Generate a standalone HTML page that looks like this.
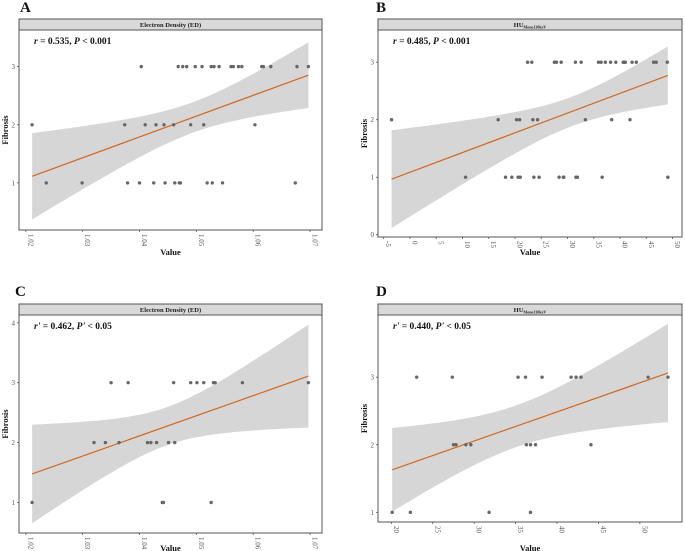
<!DOCTYPE html>
<html><head><meta charset="utf-8">
<style>
html,body{margin:0;padding:0;background:#fff;}
svg{display:block;font-family:"Liberation Serif",serif;}
</style></head>
<body>
<svg id="chart" width="685" height="551" viewBox="0 0 685 551"></svg>
<script>
// ---- data (x values per fibrosis grade) ----
const aX3 = [1.0403,1.0468,1.0476,1.0483,1.0498,1.0510,1.0526,1.0531,1.0540,1.0561,1.0565,1.0574,1.0580,1.0615,1.0618,1.0631,1.0677,1.0697];
const aX2 = [1.0211,1.0374,1.0410,1.0429,1.0443,1.0460,1.0490,1.0513,1.0603];
const aX1 = [1.0236,1.0299,1.0379,1.0400,1.0425,1.0445,1.0462,1.0470,1.0472,1.0519,1.0528,1.0546,1.0674];
const bX3 = [22.4,23.2,27.5,27.9,28.8,31.5,32.6,35.9,36.4,37.2,38.2,39.2,40.6,40.8,41.0,42.3,43.1,46.4,46.9,49.0];
const bX2 = [-3.5,16.8,20.3,20.9,23.4,24.3,33.4,38.4,41.9];
const bX1 = [10.6,18.2,19.4,20.6,21.0,23.6,24.6,28.4,29.2,29.3,31.6,31.9,36.6,49.1];
const cX3 = [1.0350,1.0380,1.0460,1.0490,1.0501,1.0513,1.0530,1.0533,1.0581,1.0697];
const cX2 = [1.0320,1.0340,1.0364,1.0414,1.0420,1.0430,1.0451,1.0462];
const cX1 = [1.0211,1.0440,1.0442,1.0526];
const dX3 = [23.06,27.36,35.3,36.2,38.2,41.7,42.3,42.9,51.0,53.4];
const dX2 = [27.5,27.8,29.0,29.6,36.3,36.8,37.4,44.1];
const dX1 = [20.1,22.3,31.8,36.8];
const edTicks = ["1.02","1.03","1.04","1.05","1.06","1.07"];
const huTicksB = ["-5","0","5","10","15","20","25","30","35","40","45","50"];
const huTicksD = ["20","25","30","35","40","45","50"];
const yTicksA = ["1","2","3"];
const yTicksB = ["0","1","2","3"];
const yTicksC = ["1","2","3","4"];
const labels = ["A","B","C","D"];

const NS="http://www.w3.org/2000/svg";
const svg=document.getElementById('chart');
function mk(tag,attrs,parent){const e=document.createElementNS(NS,tag);for(const k in attrs)e.setAttribute(k,attrs[k]);(parent||svg).appendChild(e);return e;}

function panel(cfg){
  const g=mk('g',{});
  
  
  const sx=v=>cfg.x0+(v-cfg.xd[0])/(cfg.xd[1]-cfg.xd[0])*(cfg.x1-cfg.x0);
  const sy=v=>cfg.y1-(v-cfg.yd[0])/(cfg.yd[1]-cfg.yd[0])*(cfg.y1-cfg.y0);
  // panel letter
  const L=mk('text',{x:cfg.lx,y:cfg.ly,'font-size':15,'font-weight':'bold',fill:'#111'},g);
  L.textContent=cfg.letter;
  
  
  // strip
  const st=mk('rect',{x:cfg.x0,y:cfg.sy0,width:cfg.x1-cfg.x0,height:cfg.y0-cfg.sy0,fill:'#d9d9d9',stroke:'#555','stroke-width':1},g);
  
  
  const stt=mk('text',{x:(cfg.x0+cfg.x1)/2,y:cfg.y0-3,'font-size':6.5,'font-weight':'bold','text-anchor':'middle',fill:'#222'},g);
  if(cfg.hu){stt.innerHTML='HU<tspan font-size="4" dy="1.5">Mono130keV</tspan>';}
  else stt.textContent='Electron Density (ED)';
  
  
  // data
  const xs=[],ys=[];
  cfg.sets.forEach(([arr,yv])=>arr.forEach(v=>{xs.push(v);ys.push(yv);}));
  const n=xs.length,mx=xs.reduce((a,b)=>a+b)/n,my=ys.reduce((a,b)=>a+b)/n;
  let sxx=0,sxy=0;xs.forEach((x,i)=>{sxx+=(x-mx)**2;sxy+=(x-mx)*(ys[i]-my);});
  const b=sxy/sxx,a=my-b*mx;
  let sse=0;xs.forEach((x,i)=>{sse+=(ys[i]-a-b*x)**2;});
  const s=Math.sqrt(sse/(n-2)),t=2.0+2.4/(n-2);
  const xmin=Math.min(...xs),xmax=Math.max(...xs);
  const up=[],lo=[];
  for(let k=0;k<=60;k++){const x=xmin+(xmax-xmin)*k/60;const f=a+b*x;const se=s*Math.sqrt(1/n+(x-mx)**2/sxx);
    up.push(sx(x).toFixed(1)+','+sy(f+t*se).toFixed(1));lo.unshift(sx(x).toFixed(1)+','+sy(f-t*se).toFixed(1));}
  const band=mk('polygon',{points:up.concat(lo).join(' '),fill:'#d6d6d6'},g);
  
  
  const ln=mk('line',{x1:sx(xmin),y1:sy(a+b*xmin),x2:sx(xmax),y2:sy(a+b*xmax),stroke:'#d2691e','stroke-width':1.2},g);
  
  
  xs.forEach((x,i)=>{const c=mk('circle',{cx:sx(x),cy:sy(ys[i]),r:1.7,fill:'#666'},g);
    
    });
  // frame
  const fr=mk('rect',{x:cfg.x0,y:cfg.y0,width:cfg.x1-cfg.x0,height:cfg.y1-cfg.y0,fill:'none',stroke:'#555','stroke-width':1},g);
  
  
  // ticks
  cfg.yt.forEach(tk=>{const y=sy(+tk);
    mk('line',{x1:cfg.x0-2,y1:y,x2:cfg.x0,y2:y,stroke:'#555','stroke-width':0.8},g);
    const tx=mk('text',{x:cfg.x0-4,y:y+2.5,'font-size':7,'text-anchor':'end',fill:'#555'},g);tx.textContent=tk;
    
    });
  cfg.xt.forEach(tk=>{const x=sx(+tk);
    mk('line',{x1:x,y1:cfg.y1,x2:x,y2:cfg.y1+2,stroke:'#555','stroke-width':0.8},g);
    const tx=mk('text',{x:x+2.5,y:cfg.y1+4,'font-size':7,'text-anchor':'start',fill:'#555',transform:`rotate(90 ${x+2.5} ${cfg.y1+4})`},g);tx.textContent=tk;
    
    });
  // axis titles
  const yt=mk('text',{x:cfg.ytx,y:(cfg.y0+cfg.y1)/2,'font-size':8.5,'font-weight':'bold','text-anchor':'middle',fill:'#111',transform:`rotate(-90 ${cfg.ytx} ${(cfg.y0+cfg.y1)/2})`},g);
  yt.textContent='Fibrosis';
  
  
  const xt=mk('text',{x:(cfg.x0+cfg.x1)/2,y:cfg.xty,'font-size':8.5,'font-weight':'bold','text-anchor':'middle',fill:'#111'},g);
  xt.textContent='Value';
  
  
  const an=mk('text',{x:cfg.x0+15,y:cfg.y0+14,'font-size':9.5,'font-weight':'bold',fill:'#111'},g);
  an.innerHTML=cfg.ann;
  
  
}
panel({letter:labels[0],lx:20,ly:12,x0:19,x1:322,sy0:19,y0:30,y1:230,xd:[1.0188,1.0721],yd:[0.19,3.63],
  sets:[[aX3,3],[aX2,2],[aX1,1]],xt:edTicks,yt:yTicksA,ytx:8,xty:255,
  ann:'<tspan font-style="italic">r</tspan> = 0.535, <tspan font-style="italic">P</tspan> &lt; 0.001'});
panel({letter:labels[1],lx:376,ly:12,x0:378,x1:682,sy0:19,y0:30,y1:237,xd:[-6.08,51.8],yd:[-0.04,3.56],
  sets:[[bX3,3],[bX2,2],[bX1,1]],xt:huTicksB,yt:yTicksB,ytx:367,xty:255,hu:true,
  ann:'<tspan font-style="italic">r</tspan> = 0.485, <tspan font-style="italic">P</tspan> &lt; 0.001'});
panel({letter:labels[2],lx:15,ly:296,x0:19,x1:322,sy0:304,y0:315,y1:533,xd:[1.0188,1.0721],yd:[0.49,4.13],
  sets:[[cX3,3],[cX2,2],[cX1,1]],xt:edTicks,yt:yTicksC,ytx:8,xty:551,
  ann:'<tspan font-style="italic">r\'</tspan> = 0.462, <tspan font-style="italic">P\'</tspan> &lt; 0.05'});
panel({letter:labels[3],lx:376,ly:296,x0:378,x1:682,sy0:304,y0:315,y1:522,xd:[18.39,55.09],yd:[0.857,3.92],
  sets:[[dX3,3],[dX2,2],[dX1,1]],xt:huTicksD,yt:yTicksA,ytx:367,xty:551,hu:true,
  ann:'<tspan font-style="italic">r\'</tspan> = 0.440, <tspan font-style="italic">P\'</tspan> &lt; 0.05'});
</script>
</body></html>
